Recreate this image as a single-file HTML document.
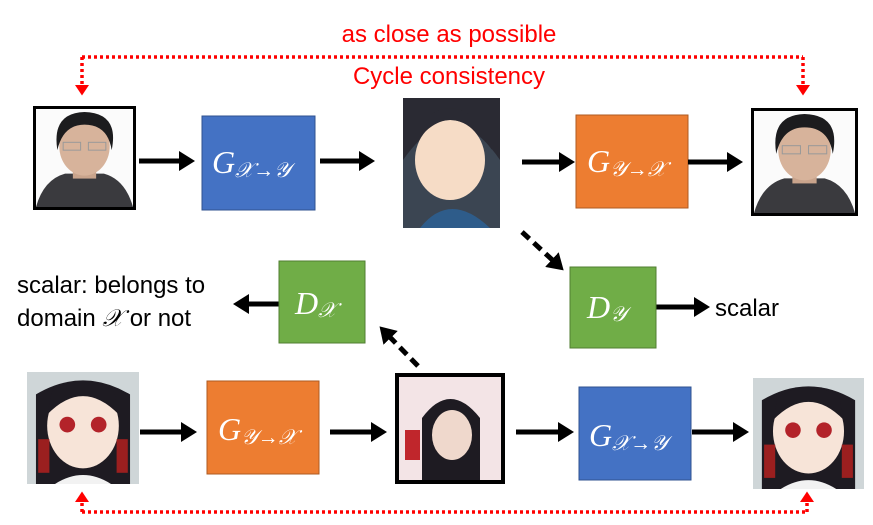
<!DOCTYPE html>
<html><head><meta charset="utf-8"><style>
body{margin:0;background:#fff;width:873px;height:520px;overflow:hidden;font-family:"Liberation Sans",sans-serif}
</style></head><body>
<svg width="873" height="520" xmlns="http://www.w3.org/2000/svg">
<defs>
<marker id="ab" markerWidth="4" markerHeight="4" refX="2.2" refY="2" orient="auto" markerUnits="strokeWidth"><path d="M0,0 L3.2,2 L0,4z" fill="#000"/></marker>
<marker id="ar" markerWidth="4" markerHeight="4" refX="2" refY="2" orient="auto" markerUnits="strokeWidth"><path d="M0,0 L3,2 L0,4z" fill="#f00"/></marker>
<g id="man">
<rect x="0" y="0" width="100" height="100" fill="#fbfbfb"/>
<path d="M0,100 Q8,72 30,66 L70,66 Q92,72 100,100z" fill="#3a3a3e"/>
<rect x="38" y="55" width="24" height="16" fill="#c9a48c"/>
<ellipse cx="50" cy="38" rx="26" ry="30" fill="#d7b39b"/>
<path d="M22,42 Q16,4 50,3 Q86,4 78,42 Q74,16 50,16 Q28,16 22,42z" fill="#1c1c1e"/>
<rect x="28" y="34" width="18" height="8" fill="none" stroke="#999" stroke-width="1"/>
<rect x="54" y="34" width="18" height="8" fill="none" stroke="#999" stroke-width="1"/>
</g>
<g id="girl">
<rect x="0" y="0" width="100" height="100" fill="#cfd6d8"/>
<path d="M8,100 L8,20 Q50,-5 92,20 L92,100z" fill="#1e1b22"/>
<ellipse cx="50" cy="48" rx="32" ry="38" fill="#f7e4d8"/>
<path d="M18,38 Q50,5 82,38 L78,18 Q50,-2 22,18z" fill="#1e1b22"/>
<ellipse cx="36" cy="47" rx="7" ry="7" fill="#b3232a"/>
<ellipse cx="64" cy="47" rx="7" ry="7" fill="#b3232a"/>
<rect x="10" y="60" width="10" height="30" fill="#9b1f1f"/>
<rect x="80" y="60" width="10" height="30" fill="#9b1f1f"/>
<path d="M25,100 Q50,84 75,100z" fill="#f2f2f2"/>
</g>
</defs>

<text x="449" y="42" text-anchor="middle" font-size="24" fill="#f00">as close as possible</text>
<text x="449" y="84" text-anchor="middle" font-size="24" fill="#f00">Cycle consistency</text>

<path d="M82,57 L803,57" stroke="#f00" stroke-width="3.5" stroke-dasharray="3,3" fill="none"/>
<path d="M82,57 L82,92" stroke="#f00" stroke-width="3.5" stroke-dasharray="3,3" fill="none" marker-end="url(#ar)"/>
<path d="M803,57 L803,92" stroke="#f00" stroke-width="3.5" stroke-dasharray="3,3" fill="none" marker-end="url(#ar)"/>
<path d="M82,512 L807,512" stroke="#f00" stroke-width="3.5" stroke-dasharray="3,3" fill="none"/>
<path d="M82,512 L82,495" stroke="#f00" stroke-width="3.5" stroke-dasharray="3,3" fill="none" marker-end="url(#ar)"/>
<path d="M807,512 L807,495" stroke="#f00" stroke-width="3.5" stroke-dasharray="3,3" fill="none" marker-end="url(#ar)"/>

<rect x="33" y="106" width="103" height="104" fill="#000"/>
<use href="#man" transform="translate(36,109) scale(0.97,0.98)"/>
<rect x="403" y="98" width="97" height="130" fill="#3b4552"/>
<path d="M403,98 L500,98 L500,160 Q452,90 403,160z" fill="#2a2a33"/>
<ellipse cx="450" cy="160" rx="35" ry="40" fill="#f6dcc6"/>
<path d="M410,150 Q450,90 492,150 Q480,110 450,108 Q420,110 410,150z" fill="#2a2a33"/>
<path d="M420,228 Q450,190 490,228z" fill="#2e5c8a"/>
<rect x="751" y="108" width="107" height="108" fill="#000"/>
<use href="#man" transform="translate(754,111) scale(1.01,1.02)"/>

<rect x="202" y="116" width="113" height="94" fill="#4472c4" stroke="#2f528f"/>
<rect x="576" y="115" width="112" height="93" fill="#ed7d31" stroke="#ae5a21"/>

<g font-family="Liberation Serif,serif" font-style="italic" fill="#fff">
<text x="212" y="173" font-size="32">G<tspan font-size="21" dy="4">𝒳→𝒴</tspan></text>
<text x="587" y="172" font-size="32">G<tspan font-size="21" dy="4">𝒴→𝒳</tspan></text>
</g>

<g stroke="#000" stroke-width="5" fill="none" marker-end="url(#ab)">
<path d="M139,161 L190,161"/><path d="M320,161 L370,161"/>
<path d="M522,162 L570,162"/><path d="M688,162 L738,162"/>
<path d="M140,432 L192,432"/><path d="M330,432 L382,432"/>
<path d="M516,432 L569,432"/><path d="M692,432 L744,432"/>
<path d="M280,304 L238,304"/><path d="M655,307 L705,307"/>
<path d="M522,232 L560,267" stroke-dasharray="10,6"/>
<path d="M418,366 L383,330" stroke-dasharray="10,6"/>
</g>

<rect x="279" y="261" width="86" height="82" fill="#70ad47" stroke="#507e32"/>
<rect x="570" y="267" width="86" height="81" fill="#70ad47" stroke="#507e32"/>
<g font-family="Liberation Serif,serif" font-style="italic" fill="#fff">
<text x="295" y="314" font-size="32">D<tspan font-size="21" dy="3">𝒳</tspan></text>
<text x="587" y="318" font-size="32">D<tspan font-size="21" dy="3">𝒴</tspan></text>
</g>

<text x="715" y="316" font-size="24" fill="#000">scalar</text>
<text x="17" y="293" font-size="24" fill="#000">scalar: belongs to</text>
<text x="17" y="326" font-size="24" fill="#000">domain <tspan font-family="Liberation Serif,serif" font-style="italic">𝒳</tspan> or not</text>

<use href="#girl" transform="translate(27,372) scale(1.12,1.12)"/>
<rect x="207" y="381" width="112" height="93" fill="#ed7d31" stroke="#ae5a21"/>
<text x="218" y="440" font-size="32" fill="#fff" font-family="Liberation Serif,serif" font-style="italic">G<tspan font-size="21" dy="4">𝒴→𝒳</tspan></text>
<rect x="395" y="373" width="110" height="111" fill="#000"/>
<rect x="399" y="377" width="102" height="103" fill="#f3e4e6"/>
<path d="M422,480 L422,418 Q450,380 480,418 L480,480z" fill="#1e1b22"/>
<ellipse cx="452" cy="435" rx="20" ry="25" fill="#efd8cc"/>
<rect x="405" y="430" width="15" height="30" fill="#c0262c"/>
<rect x="579" y="387" width="112" height="93" fill="#4472c4" stroke="#2f528f"/>
<text x="589" y="446" font-size="32" fill="#fff" font-family="Liberation Serif,serif" font-style="italic">G<tspan font-size="21" dy="4">𝒳→𝒴</tspan></text>
<use href="#girl" transform="translate(753,378) scale(1.11,1.11)"/>
</svg>
</body></html>
